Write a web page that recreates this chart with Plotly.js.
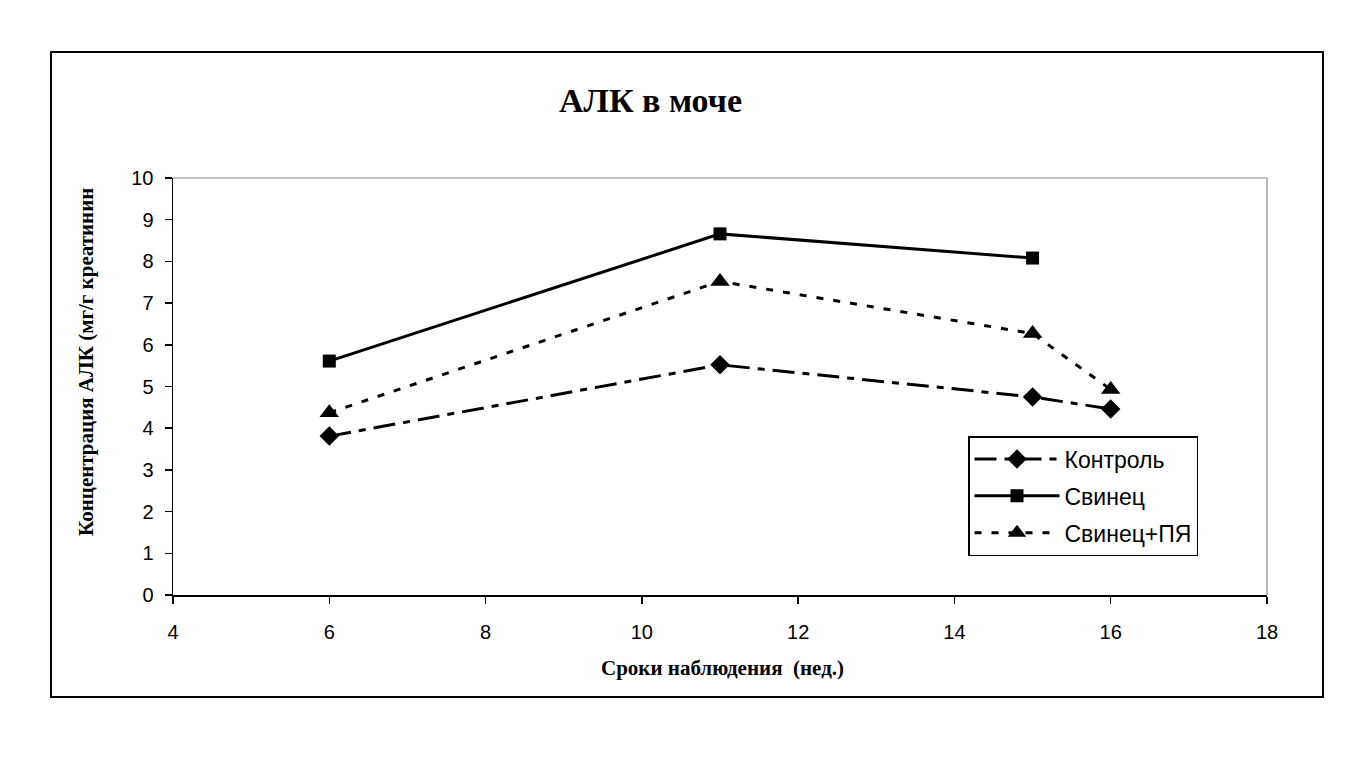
<!DOCTYPE html>
<html>
<head>
<meta charset="utf-8">
<script src="https://cdn.plot.ly/plotly-3.0.1.min.js"></script>
<style>html,body{margin:0;padding:0;background:#fff;}#chart{width:1372px;height:763px;}</style>
</head>
<body>
<div id="chart"></div>
<script>
const weeksControl = [6, 11, 15, 16];
const control = [3.81, 5.52, 4.75, 4.46];
const weeksLead = [6, 11, 15];
const lead = [5.61, 8.66, 8.08];
const weeksLeadPY = [6, 11, 15, 16];
const leadPY = [4.37, 7.52, 6.27, 4.93];
const seriesNames = ["Контроль", "Свинец", "Свинец+ПЯ"];
const chartTitle = "АЛК в моче";
const xTitle = "Сроки наблюдения  (нед.)";
const yTitle = "Концентрация АЛК (мг/г креатинин";

const traces = [
  {x: weeksControl, y: control, name: seriesNames[0], legendgroup: "a", mode: "lines+markers", type: "scatter",
   line: {color: "#000", width: 3, dash: "22px,8px,7px,8px"},
   marker: {symbol: "diamond", size: 15, color: "#000"}},
  {x: weeksLead, y: lead, name: seriesNames[1], legendgroup: "b", mode: "lines+markers", type: "scatter",
   line: {color: "#000", width: 3},
   marker: {symbol: "square", size: 13, color: "#000"}},
  {x: weeksLeadPY, y: leadPY, name: seriesNames[2], legendgroup: "c", mode: "lines+markers", type: "scatter",
   line: {color: "#000", width: 3, dash: "7px,10px"},
   marker: {symbol: "triangle-up", size: 17, color: "#000"}}
];

const L = 173, R = 1267, T = 178, B = 595;
const px = v => (v - L) / (R - L);
const py = v => (B - v) / (B - T);

const layout = {
  width: 1372, height: 763,
  margin: {l: L, r: 1372 - R, t: T, b: 763 - B},
  paper_bgcolor: "#fff", plot_bgcolor: "#fff",
  showlegend: true,
  legend: {x: px(968), y: py(436), xanchor: "left", yanchor: "top",
    bordercolor: "#000", borderwidth: 1.5, bgcolor: "#fff",
    font: {family: "Liberation Sans, Arial", size: 23, color: "#000"},
    itemwidth: 85, traceorder: "grouped", tracegroupgap: 4},
  xaxis: {range: [4, 18], dtick: 2, tick0: 4, showgrid: false, zeroline: false,
    showline: true, linecolor: "#000", linewidth: 1.5,
    ticks: "outside", ticklen: 7, tickcolor: "#000", tickwidth: 1.5, ticklabelstandoff: 11,
    tickfont: {family: "Liberation Sans, Arial", size: 20, color: "#000"}},
  yaxis: {range: [0, 10], dtick: 1, showgrid: false, zeroline: false,
    showline: true, linecolor: "#000", linewidth: 1.5,
    ticks: "outside", ticklen: 7, tickcolor: "#000", tickwidth: 1.5, ticklabelstandoff: 7,
    tickfont: {family: "Liberation Sans, Arial", size: 20, color: "#000"}},
  annotations: [
    {text: "<b>" + chartTitle + "</b>", xref: "paper", yref: "paper", x: px(650), y: py(100),
     xanchor: "center", yanchor: "middle", showarrow: false,
     font: {family: "Liberation Serif, Times New Roman", size: 34, color: "#000"}},
    {text: "<b>" + xTitle + "</b>", xref: "paper", yref: "paper", x: px(722), y: py(668),
     xanchor: "center", yanchor: "middle", showarrow: false,
     font: {family: "Liberation Serif, Times New Roman", size: 21, color: "#000"}},
    {text: "<b>" + yTitle + "</b>", xref: "paper", yref: "paper", x: px(86), y: py(362),
     xanchor: "center", yanchor: "middle", showarrow: false, textangle: -90,
     font: {family: "Liberation Serif, Times New Roman", size: 21, color: "#000"}}
  ],
  shapes: [
    {type: "line", xref: "paper", yref: "paper", x0: 0, x1: 1, y0: 1, y1: 1, line: {color: "#888", width: 1.2}},
    {type: "line", xref: "paper", yref: "paper", x0: 1, x1: 1, y0: 0, y1: 1, line: {color: "#888", width: 1.2}},
    {type: "rect", xref: "paper", yref: "paper", x0: px(51), x1: px(1323), y0: py(697), y1: py(52),
     line: {color: "#000", width: 2}, layer: "below"}
  ]
};

Plotly.newPlot("chart", traces, layout, {displayModeBar: false, staticPlot: true});
</script>
</body>
</html>
